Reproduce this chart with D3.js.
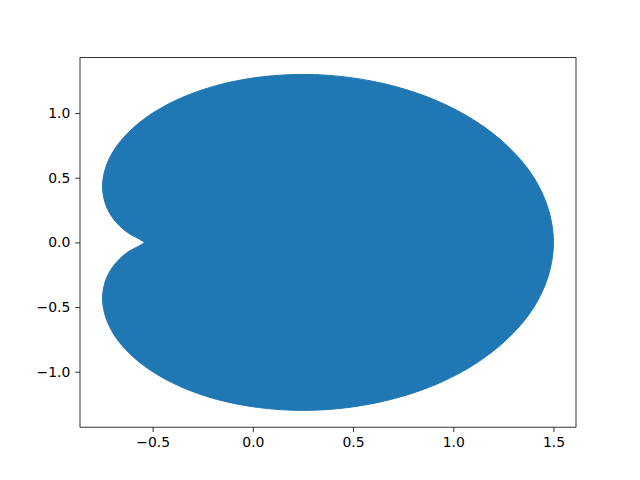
<!DOCTYPE html>
<html><head><meta charset="utf-8">
<script src="https://cdn.jsdelivr.net/npm/d3@7"></script>
<style>body{margin:0;background:#fff}svg{display:block}</style>
</head><body>
<script>
// Boundary points of the filled shape, starting and ending at the notch tip
const xs = [-0.54, -0.570, -0.616, -0.664, -0.707, -0.738, -0.75, -0.736, -0.692, -0.613, -0.5, -0.352, -0.174, 0.029, 0.25, 0.479, 0.707, 0.923, 1.116, 1.277, 1.399, 1.474,
            1.5, 1.474, 1.399, 1.277, 1.116, 0.923, 0.707, 0.479, 0.25, 0.029, -0.174, -0.352, -0.5, -0.613, -0.692, -0.736, -0.75, -0.738, -0.707, -0.664, -0.616, -0.570, -0.54];
const ys = [0, 0.029, 0.067, 0.126, 0.207, 0.310, 0.433, 0.570, 0.716, 0.862, 1.0, 1.121, 1.216, 1.277, 1.299, 1.276, 1.207, 1.092, 0.933, 0.736, 0.509, 0.260,
            0, -0.260, -0.509, -0.736, -0.933, -1.092, -1.207, -1.276, -1.299, -1.277, -1.216, -1.121, -1.0, -0.862, -0.716, -0.570, -0.433, -0.310, -0.207, -0.126, -0.067, -0.029, 0];
const xTicks = [-0.5, 0.0, 0.5, 1.0, 1.5];
const yTicks = [-1.0, -0.5, 0.0, 0.5, 1.0];

const W = 640, H = 480;
const L = 80, R = 576, T = 57.6, B = 427.2;
const fmt = v => d3.format(".1f")(v).replace("-", "\u2212");

const x = d3.scaleLinear().domain([-0.8625, 1.6125]).range([L, R]);
const y = d3.scaleLinear().domain([-1.4289, 1.4289]).range([B, T]);

const svg = d3.select("body").append("svg").attr("width", W).attr("height", H);

const pts = xs.map((v, i) => [x(v), y(ys[i])]);
const line = d3.line().curve(d3.curveCatmullRom.alpha(0.5));
svg.append("path").attr("d", line(pts) + "Z")
  .attr("fill", "#1f77b4").attr("stroke", "#1f77b4").attr("stroke-width", 1);

const font = "DejaVu Sans, sans-serif";
const xa = svg.append("g").attr("transform", `translate(0,${B})`)
  .call(d3.axisBottom(x).tickValues(xTicks).tickFormat(fmt).tickSizeOuter(0).tickSize(4.86).tickPadding(4.86));
const ya = svg.append("g").attr("transform", `translate(${L},0)`)
  .call(d3.axisLeft(y).tickValues(yTicks).tickFormat(fmt).tickSizeOuter(0).tickSize(4.86).tickPadding(4.86));
[xa, ya].forEach(a => {
  a.select(".domain").remove();
  a.selectAll("line").attr("stroke", "#000").attr("stroke-width", 0.8);
  a.selectAll("text").attr("font-family", font).attr("font-size", "13.9px").attr("fill", "#000");
});

svg.append("rect").attr("x", L).attr("y", T).attr("width", R - L).attr("height", B - T)
  .attr("fill", "none").attr("stroke", "#000").attr("stroke-width", 0.8);
</script>
</body></html>
